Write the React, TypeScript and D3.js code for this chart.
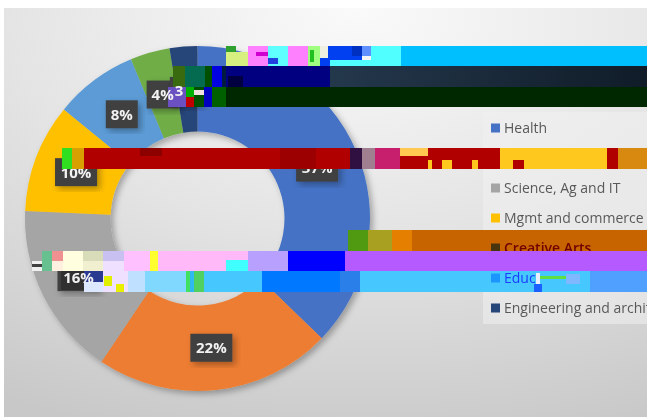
import React from "react";
import * as d3 from "d3";

const categories = ["Health", "", "Science, Ag and IT", "Mgmt and commerce", "Creative Arts", "Education", "Engineering and archit"];
const values = [37.2, 22.2, 16.3, 10.2, 7.8, 3.7, 2.6];
const percentLabels = ["37%", "22%", "16%", "10%", "8%", "4%", "3%"];
const sliceColors = ["#4472c4", "#ed7d31", "#a5a5a5", "#ffc000", "#5b9bd5", "#70ad47", "#264478"];
const legendMarkerColors = ["#4472c4", "#ed7d31", "#a5a5a5", "#ffc000", "#4a3410", "#1e96ff", "#264478"];
const legendTextColors = ["#595959", "#595959", "#595959", "#595959", "#6e0000", "#1a3cff", "#595959"];

// Corrupted horizontal strips lying over the picture: [x0, x1, y0, y1, colour]
const glitchStrips: [number, number, number, number, string][] = [
  [226, 236, 46, 66, "#30a030"], [226, 248, 52, 66, "#d8f080"], [248, 268, 46, 66, "#ff80ff"], [256, 268, 52, 56, "#d000d0"],
  [268, 288, 46, 66, "#60ffff"], [268, 278, 58, 64, "#2040e0"],
  [288, 308, 46, 66, "#ff80ff"], [308, 320, 46, 66, "#a0ff80"], [310, 314, 50, 62, "#20c020"], [320, 328, 46, 60, "#f0f0e0"],
  [328, 362, 46, 60, "#0040f0"], [352, 362, 46, 56, "#0030c0"], [362, 371, 46, 56, "#6090ff"],
  [320, 330, 58, 66, "#0040f0"], [330, 411, 60, 66, "#50ffff"], [371, 401, 46, 60, "#50ffff"], [401, 647, 46, 66, "#00bfff"],
  [173, 185, 66, 87, "#3a6a10"], [185, 205, 66, 87, "#046a50"], [205, 212, 66, 87, "#005000"], [212, 222, 66, 87, "#0000e0"], [222, 226, 66, 87, "#001a40"],
  [226, 330, 66, 87, "#000080"], [228, 243, 76, 87, "#000040"],
  [168, 186, 87, 107, "#6a50c0"], [186, 194, 87, 97, "#00b000"], [186, 194, 97, 107, "#c00000"],
  [194, 204, 87, 107, "#005000"], [194, 204, 90, 95, "#f0e0e0"], [204, 212, 87, 107, "#0000c0"], [212, 226, 87, 107, "#006000"],
  [226, 647, 87, 107, "#002800"],
  [62, 72, 148, 169, "#30e020"], [72, 84, 148, 169, "#d8a000"], [84, 350, 148, 169, "#b00000"], [140, 162, 148, 156, "#8c0000"], [280, 316, 148, 169, "#9c0000"],
  [350, 362, 148, 169, "#301040"], [362, 375, 148, 169, "#a08090"],
  [375, 400, 148, 169, "#c81e6e"], [400, 500, 148, 169, "#b00000"], [400, 428, 148, 156, "#ffc850"],
  [428, 432, 160, 169, "#ffc81e"], [442, 452, 160, 169, "#ffc81e"], [472, 478, 160, 169, "#ffc81e"],
  [500, 607, 148, 169, "#ffc81e"], [513, 524, 160, 169, "#b00000"], [607, 618, 148, 169, "#b00000"],
  [618, 647, 148, 169, "#d88a10"],
  [348, 368, 230, 251, "#4f9a10"], [368, 392, 230, 251, "#a8a020"], [392, 412, 230, 251, "#e57f00"],
  [412, 647, 230, 251, "#c86400"],
  [32, 42, 261, 264, "#f0f0f0"], [32, 42, 264, 267, "#404040"], [32, 42, 267, 271, "#f0f0f0"],
  [42, 52, 251, 271, "#66c090"], [52, 63, 251, 271, "#f09090"], [52, 63, 261, 271, "#fff0e0"],
  [63, 83, 251, 271, "#ffffe0"], [83, 103, 251, 261, "#d8dcb8"], [83, 103, 261, 271, "#f0f0d0"],
  [103, 124, 251, 271, "#f0e0ff"], [103, 124, 251, 261, "#c8c0f0"], [124, 150, 251, 271, "#ffc0ff"], [150, 158, 251, 271, "#ffff30"], [158, 248, 251, 271, "#ffb8f8"],
  [226, 248, 260, 271, "#40ffff"], [248, 288, 251, 271, "#b8a0ff"], [288, 345, 251, 271, "#0000ff"], [345, 647, 251, 271, "#b45aff"],
  [61, 84, 271, 290, "#303030"], [84, 103, 271, 282, "#2a3a90"], [84, 103, 282, 292, "#dce8ff"], [103, 145, 271, 292, "#f0e0ff"], [104, 112, 276, 286, "#e0f000"],
  [116, 124, 284, 292, "#e8f000"], [128, 145, 271, 292, "#c0e0ff"],
  [145, 186, 271, 292, "#80d8ff"], [186, 190, 271, 292, "#40e060"], [190, 194, 271, 292, "#30b8f0"], [194, 204, 271, 292, "#50d060"], [204, 262, 271, 292, "#46c8ff"],
  [262, 340, 271, 292, "#0078ff"], [340, 360, 271, 292, "#2a7fe8"], [360, 590, 271, 292, "#46c8ff"],
  [590, 647, 271, 292, "#50a0ff"],
  [536, 540, 273, 284, "#e8f0ff"], [540, 566, 276, 279, "#60e040"], [566, 580, 274, 284, "#80b8ff"], [534, 542, 284, 292, "#1a60ff"],
];

const W = 647, H = 417, cx = 197.5, cy = 218.5, rOuter = 172.5, rInner = 87;
const lastDarkIdx = [5, 6];
const strippedLegendIdx = [4, 5];

export default function App() {
  const pie = d3.pie<number>().sort(null)(values);
  const arc = d3.arc<d3.PieArcDatum<number>>().innerRadius(rInner).outerRadius(rOuter);
  const labelArc = d3.arc<d3.PieArcDatum<number>>().innerRadius(130).outerRadius(130);
  const legendY = d3.scalePoint<number>().domain(categories.map((_, i) => i)).range([128, 308]);
  const font = "'Open Sans', 'Noto Sans', sans-serif";
  const label = (i: number, d: d3.PieArcDatum<number>, box: boolean) => {
    const [x, y] = labelArc.centroid(d);
    const bw = percentLabels[i].length === 3 ? 42 : 32;
    const dx = i === 2 ? -3 : i === 4 ? 2 : i === 5 ? 1 : i === 6 ? -1 : 0;
    const dy = i === 5 ? 1 : i === 6 ? 2 : 0;
    return (
      <g key={i} transform={`translate(${cx + x + dx},${cy + y + dy})`}>
        {box && <rect x={-bw / 2} y={-14} width={bw} height={28} fill="#404040" filter="url(#sh)" />}
        {(!box || !(i === 2 || i === 5 || i === 6)) && (
          <text textAnchor="middle" dy="5.5" fontFamily={font} fontSize={15} fontWeight={700} fill="#f2f2f2">{percentLabels[i]}</text>
        )}
      </g>
    );
  };
  return (
    <svg width={W} height={H} style={{ position: "absolute", left: 0, top: 0, display: "block", background: "#fff" }}>
      <defs>
        <radialGradient id="bg" cx="55%" cy="0%" r="110%">
          <stop offset="0%" stopColor="#fafafa" />
          <stop offset="50%" stopColor="#e4e4e4" />
          <stop offset="100%" stopColor="#c8c8c8" />
        </radialGradient>
        <linearGradient id="dark" x1="0" x2="1">
          <stop offset="0%" stopColor="#24384c" />
          <stop offset="100%" stopColor="#101c28" />
        </linearGradient>
        <filter id="sh" x="-15%" y="-15%" width="135%" height="135%">
          <feDropShadow dx="3" dy="3" stdDeviation="3" floodColor="#000" floodOpacity="0.3" />
        </filter>
        <filter id="soft"><feGaussianBlur stdDeviation="0.4" /></filter>
        <clipPath id="cut3"><rect x={140} y={80} width={44} height={30} /></clipPath>
        <clipPath id="cutCreative"><rect x={480} y={230} width={167} height={21} /></clipPath>
        <clipPath id="cutEdu"><rect x={480} y={262} width={56} height={30} /></clipPath>
      </defs>
      <rect x={4} y={8} width={W - 4} height={H - 8} fill="url(#bg)" />
      <rect x={483} y={112} width={164} height={212} fill="#f0f0f0" opacity={0.55} />
      <g transform={`translate(${cx},${cy})`} filter="url(#sh)">
        {pie.map((d, i) => <path key={i} d={arc(d)!} fill={sliceColors[i]} />)}
      </g>
      <g filter="url(#soft)">
        {pie.map((d, i) => label(i, d, true))}
        {categories.map((c, i) => strippedLegendIdx.includes(i) ? null : (
          <g key={i} transform={`translate(491,${legendY(i)})`}>
            <rect y={-4.5} width={9} height={9} fill={legendMarkerColors[i]} />
            <text x={13} dy="5" fontFamily={font} fontSize={14} fill={legendTextColors[i]}>{c}</text>
          </g>
        ))}
      </g>
      <rect x={330} y={66} width={317} height={21} fill="url(#dark)" />
      {glitchStrips.map(([x0, x1, y0, y1, c], i) => (
        <rect key={i} x={x0} y={y0} width={x1 - x0} height={y1 - y0} fill={c} />
      ))}
      <g filter="url(#soft)">
        <g clipPath="url(#cut3)">{lastDarkIdx.map((i) => label(i, pie[i], false))}</g>
        {label(2, pie[2], false)}
        <rect x={491} y={243.5} width={9} height={7.5} fill={legendMarkerColors[4]} />
        <g clipPath="url(#cutCreative)">
          <text x={504} y={253} fontFamily={font} fontSize={14} fontWeight={600} fill={legendTextColors[4]}>{categories[4]}</text>
        </g>
        <rect x={491} y={273.5} width={9} height={9} fill={legendMarkerColors[5]} />
        <g clipPath="url(#cutEdu)">
          <text x={504} y={283} fontFamily={font} fontSize={14} fill={legendTextColors[5]}>{categories[5]}</text>
        </g>
      </g>
    </svg>
  );
}
